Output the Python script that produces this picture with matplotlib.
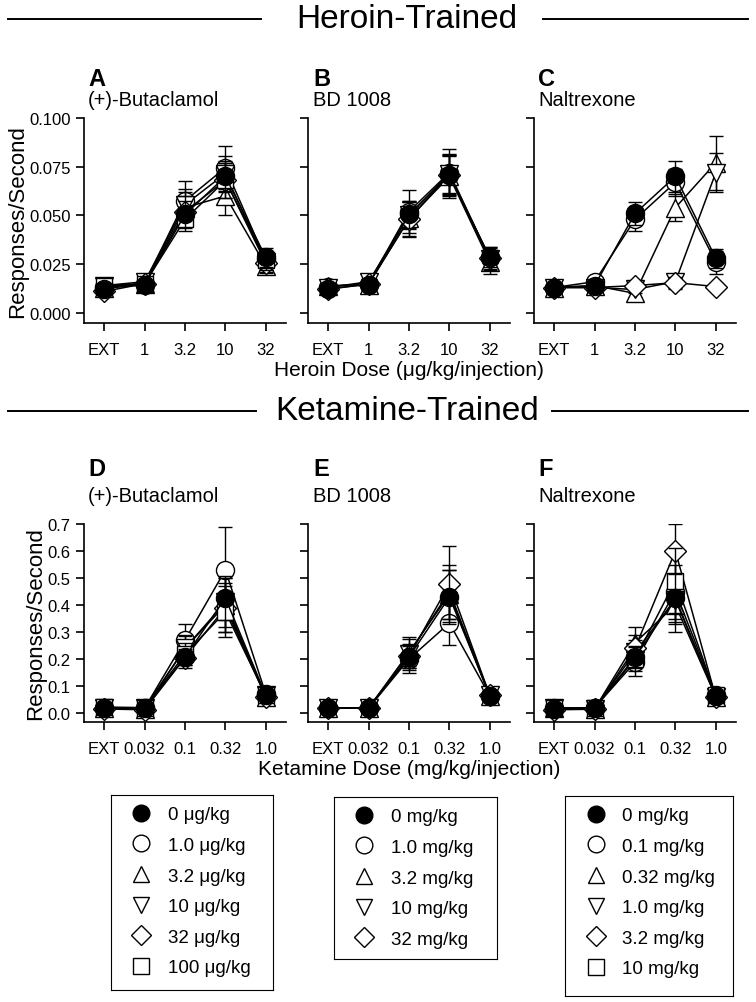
import numpy as np
import matplotlib
matplotlib.use("Agg")
import matplotlib.pyplot as plt
from matplotlib.lines import Line2D

plt.rcParams['font.family'] = ['Liberation Sans', 'DejaVu Sans']

# ================= data =================
heroin_ticks = ['EXT', '1', '3.2', '10', '32']
ketamine_ticks = ['EXT', '0.032', '0.1', '0.32', '1.0']

# legend labels (pretreatment doses)
buta_labels = ['0 μg/kg', '1.0 μg/kg', '3.2 μg/kg', '10 μg/kg', '32 μg/kg', '100 μg/kg']
bd_labels = ['0 mg/kg', '1.0 mg/kg', '3.2 mg/kg', '10 mg/kg', '32 mg/kg']
nal_labels = ['0 mg/kg', '0.1 mg/kg', '0.32 mg/kg', '1.0 mg/kg', '3.2 mg/kg', '10 mg/kg']

# Panel A: heroin-trained, (+)-butaclamol
a_mean = [
    [0.0125, 0.0145, 0.0505, 0.0700, 0.0285],
    [0.0135, 0.0150, 0.0575, 0.0745, 0.0270],
    [0.0130, 0.0150, 0.0540, 0.0600, 0.0240],
    [0.0140, 0.0160, 0.0555, 0.0715, 0.0260],
    [0.0110, 0.0150, 0.0520, 0.0680, 0.0255],
    [0.0140, 0.0150, 0.0480, 0.0680, 0.0270],
]
a_err = [
    [0.002, 0.002, 0.007, 0.008, 0.005],
    [0.002, 0.002, 0.010, 0.011, 0.005],
    [0.002, 0.002, 0.008, 0.010, 0.004],
    [0.002, 0.002, 0.008, 0.009, 0.005],
    [0.002, 0.002, 0.008, 0.009, 0.005],
    [0.002, 0.002, 0.006, 0.009, 0.005],
]

# Panel B: heroin-trained, BD 1008
b_mean = [
    [0.0125, 0.0145, 0.0505, 0.0705, 0.0285],
    [0.0135, 0.0150, 0.0520, 0.0720, 0.0280],
    [0.0140, 0.0145, 0.0485, 0.0700, 0.0260],
    [0.0130, 0.0160, 0.0500, 0.0715, 0.0275],
    [0.0120, 0.0150, 0.0480, 0.0710, 0.0280],
]
b_err = [
    [0.002, 0.002, 0.007, 0.010, 0.005],
    [0.002, 0.002, 0.011, 0.012, 0.006],
    [0.002, 0.002, 0.009, 0.011, 0.006],
    [0.002, 0.002, 0.007, 0.010, 0.005],
    [0.002, 0.002, 0.009, 0.010, 0.006],
]

# Panel C: heroin-trained, naltrexone
c_mean = [
    [0.0130, 0.0140, 0.0510, 0.0700, 0.0280],
    [0.0130, 0.0160, 0.0480, 0.0670, 0.0260],
    [0.0130, 0.0140, 0.0100, 0.0540, 0.0770],
    [0.0130, 0.0130, 0.0120, 0.0160, 0.0720],
    [0.0130, 0.0130, 0.0140, 0.0155, 0.0135],
]
c_err = [
    [0.002, 0.002, 0.006, 0.008, 0.005],
    [0.002, 0.002, 0.006, 0.007, 0.006],
    [0.002, 0.002, 0.002, 0.007, 0.014],
    [0.002, 0.002, 0.002, 0.003, 0.010],
    [0.002, 0.002, 0.002, 0.003, 0.002],
]

# Panel D: ketamine-trained, (+)-butaclamol
d_mean = [
    [0.019, 0.019, 0.207, 0.426, 0.065],
    [0.018, 0.018, 0.270, 0.530, 0.070],
    [0.020, 0.015, 0.240, 0.400, 0.060],
    [0.020, 0.018, 0.240, 0.410, 0.065],
    [0.015, 0.012, 0.205, 0.390, 0.060],
    [0.022, 0.020, 0.218, 0.375, 0.065],
]
d_err = [
    [0.010, 0.008, 0.030, 0.080, 0.012],
    [0.010, 0.008, 0.060, 0.160, 0.012],
    [0.010, 0.008, 0.050, 0.100, 0.012],
    [0.010, 0.008, 0.045, 0.090, 0.012],
    [0.010, 0.008, 0.040, 0.090, 0.012],
    [0.010, 0.008, 0.040, 0.095, 0.012],
]

# Panel E: ketamine-trained, BD 1008
e_mean = [
    [0.019, 0.019, 0.207, 0.430, 0.064],
    [0.018, 0.018, 0.200, 0.333, 0.063],
    [0.020, 0.017, 0.225, 0.440, 0.062],
    [0.017, 0.020, 0.220, 0.450, 0.066],
    [0.019, 0.018, 0.210, 0.478, 0.065],
]
e_err = [
    [0.010, 0.008, 0.040, 0.100, 0.012],
    [0.010, 0.008, 0.050, 0.080, 0.012],
    [0.010, 0.008, 0.050, 0.090, 0.012],
    [0.010, 0.008, 0.060, 0.100, 0.012],
    [0.010, 0.008, 0.045, 0.140, 0.012],
]

# Panel F: ketamine-trained, naltrexone
f_mean = [
    [0.015, 0.018, 0.207, 0.426, 0.062],
    [0.018, 0.020, 0.188, 0.450, 0.068],
    [0.020, 0.015, 0.260, 0.400, 0.060],
    [0.017, 0.016, 0.225, 0.420, 0.060],
    [0.012, 0.014, 0.240, 0.600, 0.058],
    [0.018, 0.018, 0.200, 0.490, 0.065],
]
f_err = [
    [0.010, 0.008, 0.040, 0.090, 0.012],
    [0.010, 0.008, 0.050, 0.100, 0.012],
    [0.010, 0.008, 0.060, 0.100, 0.012],
    [0.010, 0.008, 0.045, 0.090, 0.012],
    [0.010, 0.008, 0.050, 0.100, 0.012],
    [0.010, 0.008, 0.045, 0.120, 0.012],
]

# ================= styling =================
W, H = 756, 1003
# marker, size, face per series (filled circle first)
styles = [('o', 13, 'black'), ('o', 13, 'white'), ('^', 13, 'white'),
          ('v', 13, 'white'), ('D', 11, 'white'), ('s', 12, 'white')]

fig = plt.figure(figsize=(W / 100, H / 100), dpi=100)


def px_axes(left, top, right, bottom):
    """add axes from pixel box (origin top-left)"""
    return fig.add_axes([left / W, 1 - bottom / H, (right - left) / W, (bottom - top) / H])


def draw_panel(ax, means, errs, ticks, ylim, yticks, show_ylab, yfmt):
    x = np.arange(len(ticks))
    n = len(means)
    # open markers first, filled circle last so it sits on top
    for i in list(range(1, n)) + [0]:
        m, ms, fc = styles[i]
        ax.errorbar(x, means[i], yerr=errs[i], marker=m, ms=ms, mfc=fc, mec='black',
                    mew=1.0, color='black', lw=1.1, elinewidth=1.0, capsize=5,
                    capthick=1.0, zorder=3 + (10 if i == 0 else i))
    ax.set_xlim(-0.5, 4.5)
    ax.set_ylim(*ylim)
    ax.set_xticks(x)
    ax.set_xticklabels(ticks)
    ax.set_yticks(yticks)
    if show_ylab:
        ax.set_yticklabels([yfmt.format(v) for v in yticks])
        ax.set_ylabel('Responses/Second', fontsize=16, labelpad=1)
    else:
        ax.set_yticklabels([])
    for s in ['top', 'right']:
        ax.spines[s].set_visible(False)
    for s in ['left', 'bottom']:
        ax.spines[s].set_linewidth(1.2)
    ax.tick_params(direction='out', length=6, width=1.2, labelsize=12)
    ax.tick_params(axis='x', pad=8)


def header(text, y, x_left_end, x_right_start):
    fig.text(407 / W, 1 - y / H, text, fontsize=24, ha='center', va='center')
    fig.add_artist(Line2D([8 / W, x_left_end / W], [1 - y / H] * 2, color='black', lw=1.4))
    fig.add_artist(Line2D([x_right_start / W, 748 / W], [1 - y / H] * 2, color='black', lw=1.4))


def panel_title(letter, name, x, y_letter, y_name):
    fig.text(x / W, 1 - y_letter / H, letter, fontsize=17, fontweight='bold', ha='left', va='center')
    fig.text(x / W, 1 - y_name / H, name, fontsize=14.5, ha='left', va='center')


def legend_box(box, labels):
    lax = px_axes(*box)
    lax.set_xticks([])
    lax.set_yticks([])
    handles = []
    for i in range(len(labels)):
        m, ms, fc = styles[i]
        handles.append(Line2D([], [], ls='none', marker=m, ms=12 if m != 'D' else 10,
                              mfc=fc, mec='black', mew=1.0))
    lax.legend(handles, labels, loc='upper left', bbox_to_anchor=(0.06, 1.0), frameon=False,
               fontsize=13.5, handlelength=1.0, handletextpad=0.9, labelspacing=0.72,
               borderaxespad=0.2)


# ================= headers =================
header('Heroin-Trained', 20, 261, 543)
header('Ketamine-Trained', 412, 256, 552)

# ================= top row =================
top_yticks = [0.0, 0.025, 0.05, 0.075, 0.1]
top_ylim = (-0.0052, 0.1)
axA = px_axes(84, 119, 286, 324)
axB = px_axes(308, 119, 510, 324)
axC = px_axes(534, 119, 736, 324)
draw_panel(axA, a_mean, a_err, heroin_ticks, top_ylim, top_yticks, True, '{:.3f}')
draw_panel(axB, b_mean, b_err, heroin_ticks, top_ylim, top_yticks, False, '{:.3f}')
draw_panel(axC, c_mean, c_err, heroin_ticks, top_ylim, top_yticks, False, '{:.3f}')
axB.set_xlabel('Heroin Dose (μg/kg/injection)', fontsize=15, labelpad=2)

panel_title('A', '(+)-Butaclamol', 88, 80, 100)
panel_title('B', 'BD 1008', 313, 80, 100)
panel_title('C', 'Naltrexone', 538, 80, 100)

# ================= bottom row =================
bot_yticks = [0.0, 0.1, 0.2, 0.3, 0.4, 0.5, 0.6, 0.7]
bot_ylim = (-0.0333, 0.7)
axD = px_axes(84, 525, 286, 723)
axE = px_axes(308, 525, 510, 723)
axF = px_axes(534, 525, 736, 723)
draw_panel(axD, d_mean, d_err, ketamine_ticks, bot_ylim, bot_yticks, True, '{:.1f}')
draw_panel(axE, e_mean, e_err, ketamine_ticks, bot_ylim, bot_yticks, False, '{:.1f}')
draw_panel(axF, f_mean, f_err, ketamine_ticks, bot_ylim, bot_yticks, False, '{:.1f}')
axE.set_xlabel('Ketamine Dose (mg/kg/injection)', fontsize=15, labelpad=2)

panel_title('D', '(+)-Butaclamol', 88, 470, 497)
panel_title('E', 'BD 1008', 313, 470, 497)
panel_title('F', 'Naltrexone', 538, 470, 497)

# ================= legends =================
legend_box((111, 796, 273, 991), buta_labels)
legend_box((334, 798, 497, 960), bd_labels)
legend_box((565, 797, 733, 997), nal_labels)

fig.savefig('out.png', dpi=100)
